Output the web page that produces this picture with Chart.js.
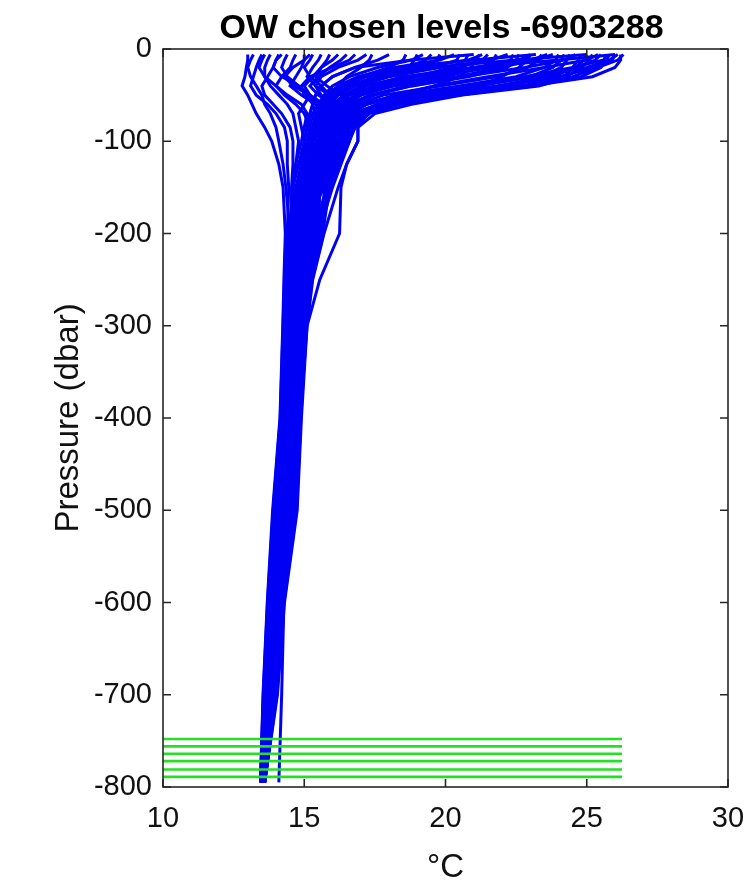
<!DOCTYPE html>
<html>
<head>
<meta charset="utf-8">
<title>OW chosen levels</title>
<script src="https://cdn.jsdelivr.net/npm/chart.js@4.4.1/dist/chart.umd.min.js"></script>
<style>
  html, body { margin: 0; padding: 0; background: #fff; }
  #wrap { width: 754px; height: 888px; }
</style>
</head>
<body>
<div id="wrap"><canvas id="chart" width="754" height="888"></canvas></div>
<script>
// OW chosen levels - float 6903288, temperature profiles vs pressure

// --- Data ---
const titleText = 'OW chosen levels -6903288';

// pressure levels shared by every profile (dbar, plotted negative)
const levels = [-6, -12, -20, -30, -40, -50, -60, -70, -85, -100, -125, -150, -200, -250, -300, -400, -500, -600, -700, -795];

// warm (summer) profiles, temperature in degC at each level
const warm01 = [26.3, 26.1, 25.4, 24.5, 23.3, 20.6, 18.8, 17.5, 16.9, 16.9, 16.5, 16.2, 15.7, 15.3, 15.1, 14.9, 14.75, 14.3, 14.05, 13.6];
const warm02 = [26.0, 25.9, 25.3, 24.0, 22.0, 19.8, 18.2, 17.2, 16.7, 16.6, 16.3, 16.0, 15.5, 15.2, 15.02, 14.78, 14.62, 14.22, 13.96, 13.6];
const warm03 = [25.7, 25.6, 24.5, 22.8, 20.8, 18.9, 17.6, 16.9, 16.5, 16.4, 16.0, 15.8, 15.3, 15.05, 14.9, 14.67, 14.5, 14.13, 13.88, 13.57];
const warm04 = [25.4, 25.0, 23.5, 21.5, 19.6, 18.2, 17.2, 16.6, 16.2, 16.1, 15.8, 15.6, 15.1, 14.9, 14.78, 14.56, 14.38, 14.04, 13.8, 13.55];
const warm05 = [25.0, 24.9, 24.6, 23.6, 21.8, 19.2, 17.6, 16.8, 16.3, 16.0, 15.7, 15.5, 14.9, 14.75, 14.65, 14.45, 14.25, 13.95, 13.72, 13.52];
const warm06 = [24.6, 24.2, 22.8, 20.6, 18.8, 17.5, 16.8, 16.3, 16.0, 15.9, 15.6, 15.4, 14.7, 14.6, 14.52, 14.35, 14.12, 13.86, 13.65, 13.5];
const warm07 = [24.2, 24.1, 23.8, 23.0, 21.2, 18.6, 17.2, 16.6, 16.2, 16.1, 15.8, 15.6, 15.32, 15.07, 14.92, 14.69, 14.52, 14.15, 13.9, 13.58];
const warm08 = [23.8, 23.2, 21.5, 19.5, 18.0, 17.0, 16.5, 16.1, 15.8, 15.7, 15.4, 15.2, 14.5, 14.45, 14.4, 14.25, 14.0, 13.78, 13.6, 13.48];
const warm09 = [23.4, 23.3, 22.9, 21.8, 19.8, 17.8, 16.9, 16.4, 16.0, 15.9, 15.6, 15.4, 15.12, 14.92, 14.8, 14.58, 14.4, 14.06, 13.82, 13.56];
const warm10 = [23.0, 22.6, 21.0, 19.0, 17.6, 16.8, 16.3, 16.0, 15.7, 15.6, 15.3, 15.1, 14.92, 14.77, 14.67, 14.47, 14.27, 13.97, 13.74, 13.53];
const warm11 = [22.6, 22.5, 22.2, 20.8, 18.8, 17.3, 16.6, 16.2, 15.9, 15.8, 15.5, 15.3, 15.52, 15.22, 15.04, 14.8, 14.64, 14.24, 13.98, 13.6];
const warm12 = [22.2, 21.6, 19.8, 18.0, 17.0, 16.4, 16.0, 15.8, 15.6, 15.5, 15.2, 15.0, 14.37, 14.32, 14.27, 14.17, 13.92, 13.72, 13.56, 13.46];
const warm13 = [21.8, 21.7, 21.3, 20.0, 18.2, 17.0, 16.4, 16.1, 15.8, 15.7, 15.4, 15.2, 14.72, 14.62, 14.54, 14.37, 14.14, 13.88, 13.66, 13.5];
const warm14 = [21.3, 20.8, 19.0, 17.5, 16.6, 16.1, 15.8, 15.6, 15.4, 15.3, 15.1, 14.9, 14.52, 14.47, 14.42, 14.27, 14.02, 13.8, 13.61, 13.48];
const warm15 = [20.8, 20.7, 20.2, 19.0, 17.5, 16.6, 16.2, 15.9, 15.6, 15.5, 15.3, 15.1, 15.08, 14.88, 14.76, 14.54, 14.36, 14.02, 13.79, 13.55];
const warm16 = [20.3, 19.8, 18.2, 17.0, 16.3, 15.9, 15.6, 15.4, 15.3, 15.2, 15.0, 14.8, 14.35, 14.3, 14.25, 14.15, 13.9, 13.7, 13.55, 13.45];
const warm17 = [19.8, 19.7, 19.2, 18.0, 16.8, 16.2, 15.9, 15.7, 15.5, 15.4, 15.2, 15.0, 14.88, 14.73, 14.63, 14.43, 14.23, 13.93, 13.71, 13.52];
const warm18 = [19.2, 18.8, 17.6, 16.6, 16.0, 15.7, 15.5, 15.3, 15.2, 15.1, 14.9, 14.7, 14.68, 14.58, 14.5, 14.33, 14.1, 13.84, 13.64, 13.5];
const warm19 = [18.6, 18.5, 18.0, 17.0, 16.3, 15.9, 15.6, 15.5, 15.4, 15.3, 15.1, 14.9, 15.28, 15.03, 14.88, 14.65, 14.48, 14.11, 13.87, 13.57];
const warm20 = [18.0, 17.6, 16.8, 16.0, 15.6, 15.4, 15.3, 15.2, 15.1, 15.0, 14.8, 14.6, 14.48, 14.43, 14.38, 14.23, 13.98, 13.76, 13.59, 13.48];
const warm21 = [17.4, 17.3, 17.0, 16.5, 16.2, 16.4, 16.7, 16.9, 16.9, 16.9, 16.5, 16.3, 16.25, 15.55, 15.1, 14.85, 14.7, 14.25, 13.95, 13.55];
const warm22 = [24.8, 24.7, 24.5, 24.2, 23.0, 20.5, 18.4, 17.0, 16.4, 16.2, 15.9, 15.7, 15.68, 15.28, 15.08, 14.88, 14.73, 14.28, 14.03, 13.6];
const warm23 = [25.2, 25.1, 24.8, 24.3, 23.2, 20.4, 18.4, 17.3, 16.8, 16.5, 16.1, 15.9, 15.48, 15.18, 15.0, 14.76, 14.6, 14.2, 13.94, 13.59];
const warm24 = [26.1, 25.8, 25.0, 23.2, 21.0, 19.0, 17.8, 17.0, 16.6, 16.4, 16.1, 15.9, 15.28, 15.03, 14.88, 14.65, 14.48, 14.11, 13.86, 13.56];
const warm25 = [26.2, 26.2, 26.0, 25.2, 23.0, 20.0, 18.0, 17.1, 16.6, 16.5, 16.2, 15.9, 15.25, 15.0, 14.86, 14.63, 14.46, 14.1, 13.85, 13.56];
const warm26 = [25.8, 25.7, 25.5, 24.8, 22.6, 19.4, 17.6, 16.9, 16.4, 16.2, 15.9, 15.7, 14.85, 14.72, 14.62, 14.42, 14.2, 13.92, 13.7, 13.52];
const warm27 = [24.0, 23.9, 23.5, 22.5, 20.5, 18.3, 17.0, 16.5, 16.1, 16.0, 15.7, 15.5, 15.15, 14.95, 14.82, 14.6, 14.42, 14.08, 13.82, 13.56];
const warm28 = [23.6, 23.0, 22.0, 20.4, 18.6, 17.4, 16.7, 16.3, 15.9, 15.8, 15.5, 15.3, 14.65, 14.56, 14.48, 14.32, 14.08, 13.83, 13.63, 13.5];
const warm29 = [22.4, 22.3, 21.6, 19.6, 17.8, 16.9, 16.4, 16.0, 15.7, 15.6, 15.4, 15.2, 14.45, 14.4, 14.36, 14.22, 13.96, 13.75, 13.58, 13.47];
const warm30 = [21.5, 21.3, 20.5, 18.7, 17.2, 16.5, 16.1, 15.8, 15.6, 15.5, 15.3, 15.1, 14.95, 14.8, 14.7, 14.5, 14.3, 13.98, 13.74, 13.53];
const warm31 = [20.5, 20.4, 19.6, 17.8, 16.6, 16.1, 15.8, 15.6, 15.4, 15.3, 15.1, 14.9, 14.4, 14.34, 14.28, 14.18, 13.93, 13.72, 13.57, 13.46];
const warm32 = [19.5, 19.3, 18.6, 17.2, 16.4, 16.0, 15.7, 15.5, 15.3, 15.2, 15.0, 14.8, 14.75, 14.64, 14.55, 14.38, 14.16, 13.9, 13.67, 13.51];
const warm33 = [26.0, 24.0, 21.0, 18.5, 17.2, 16.6, 16.2, 15.9, 15.6, 15.5, 15.3, 15.1, 14.6, 14.5, 14.44, 14.28, 14.04, 13.8, 13.62, 13.49];
const warm34 = [25.0, 22.5, 19.5, 17.6, 16.6, 16.1, 15.8, 15.6, 15.4, 15.3, 15.1, 14.9, 15.0, 14.82, 14.7, 14.5, 14.32, 14.0, 13.76, 13.54];
const warm35 = [23.2, 21.0, 18.3, 16.9, 16.2, 15.8, 15.6, 15.5, 15.3, 15.2, 15.0, 14.85, 14.8, 14.68, 14.58, 14.4, 14.18, 13.9, 13.68, 13.51];
const warm36 = [21.0, 18.8, 16.8, 16.0, 15.6, 15.4, 15.3, 15.2, 15.1, 15.0, 14.9, 14.75, 14.42, 14.36, 14.32, 14.2, 13.94, 13.74, 13.58, 13.47];
const warm37 = [25.5, 25.3, 24.6, 23.8, 22.8, 20.2, 18.0, 17.0, 16.5, 16.3, 16.0, 15.8, 15.4, 15.12, 14.96, 14.72, 14.56, 14.18, 13.92, 13.58];
const warm38 = [24.4, 24.3, 24.1, 23.4, 22.4, 20.3, 18.1, 16.9, 16.4, 16.2, 15.9, 15.6, 15.2, 14.98, 14.84, 14.62, 14.44, 14.08, 13.84, 13.56];
const warm39 = [23.0, 22.9, 22.6, 22.0, 21.2, 19.6, 17.6, 16.7, 16.2, 16.0, 15.7, 15.5, 15.6, 15.25, 15.06, 14.84, 14.68, 14.26, 14.0, 13.6];
const warm40 = [21.2, 21.1, 20.9, 20.5, 19.6, 18.4, 17.2, 16.5, 16.1, 15.9, 15.6, 15.4, 14.95, 14.78, 14.68, 14.48, 14.28, 13.96, 13.73, 13.52];
const warm41 = [19.0, 18.9, 18.7, 18.4, 17.8, 17.0, 16.5, 16.2, 15.9, 15.7, 15.5, 15.3, 14.55, 14.48, 14.42, 14.27, 14.02, 13.79, 13.61, 13.49];

// cold (winter) profiles, temperature in degC at each level
const cold01 = [13.0, 13.0, 12.95, 12.9, 12.8, 13.0, 13.15, 13.3, 13.6, 13.85, 14.1, 14.25, 14.33, 14.28, 14.24, 14.14, 13.88, 13.69, 13.54, 13.45];
const cold02 = [13.2, 13.1, 13.0, 13.1, 13.3, 13.5, 13.6, 13.8, 14.0, 14.1, 14.25, 14.35, 14.5, 14.45, 14.4, 14.25, 14.0, 13.78, 13.6, 13.48];
const cold03 = [13.5, 13.4, 13.3, 13.2, 13.1, 13.3, 13.7, 14.0, 14.3, 14.4, 14.4, 14.45, 14.4, 14.35, 14.3, 14.2, 13.95, 13.72, 13.57, 13.46];
const cold04 = [13.8, 13.7, 13.6, 13.6, 13.8, 14.1, 14.4, 14.6, 14.7, 14.8, 14.7, 14.6, 14.7, 14.6, 14.52, 14.35, 14.12, 13.86, 13.65, 13.5];
const cold05 = [14.1, 14.0, 13.9, 13.7, 13.5, 13.6, 13.9, 14.2, 14.5, 14.6, 14.6, 14.55, 14.55, 14.5, 14.45, 14.3, 14.05, 13.8, 13.62, 13.49];
const cold06 = [14.4, 14.3, 14.2, 14.4, 14.8, 15.1, 15.3, 15.4, 15.3, 15.2, 15.0, 14.9, 14.9, 14.75, 14.65, 14.45, 14.25, 13.95, 13.72, 13.52];
const cold07 = [14.7, 14.6, 14.5, 14.2, 14.0, 14.3, 14.7, 15.0, 15.2, 15.2, 15.0, 14.85, 14.65, 14.55, 14.48, 14.32, 14.08, 13.84, 13.64, 13.5];
const cold08 = [15.0, 15.0, 14.9, 14.7, 14.5, 14.9, 15.4, 15.7, 15.8, 15.6, 15.4, 15.2, 15.0, 14.8, 14.7, 14.6, 14.5, 14.28, 14.2, 14.1];
const cold09 = [15.3, 15.2, 15.0, 15.2, 15.6, 15.9, 16.0, 15.9, 15.7, 15.6, 15.4, 15.25, 15.15, 14.95, 14.82, 14.6, 14.42, 14.08, 13.83, 13.56];
const cold10 = [15.6, 15.5, 15.3, 15.1, 15.4, 15.9, 16.2, 16.0, 15.8, 15.7, 15.5, 15.35, 15.45, 15.15, 14.98, 14.75, 14.58, 14.19, 13.93, 13.59];
const cold11 = [15.9, 15.8, 15.6, 15.3, 15.0, 15.2, 15.7, 16.1, 16.3, 16.2, 15.9, 15.6, 15.35, 15.1, 14.95, 14.7, 14.54, 14.16, 13.9, 13.58];
const cold12 = [16.2, 16.0, 15.6, 15.4, 15.8, 16.3, 16.6, 16.4, 16.2, 16.0, 15.7, 15.5, 15.05, 14.86, 14.74, 14.52, 14.34, 14.0, 13.78, 13.54];
const cold13 = [16.5, 16.3, 15.9, 15.5, 15.2, 15.5, 16.0, 16.5, 16.8, 16.6, 16.2, 15.9, 15.65, 15.27, 15.07, 14.87, 14.72, 14.27, 14.0, 13.6];
const cold14 = [16.8, 16.6, 16.0, 15.2, 14.9, 15.0, 15.6, 16.2, 16.6, 16.5, 16.1, 15.8, 15.55, 15.24, 15.06, 14.82, 14.66, 14.25, 13.98, 13.6];
const cold15 = [14.2, 14.0, 13.9, 14.2, 14.8, 15.2, 15.0, 14.8, 14.9, 15.0, 14.9, 14.8, 14.85, 14.72, 14.62, 14.42, 14.22, 13.92, 13.7, 13.51];
const cold16 = [13.6, 13.5, 13.4, 13.6, 14.0, 14.4, 14.9, 15.1, 15.0, 14.9, 14.7, 14.6, 14.75, 14.64, 14.56, 14.39, 14.16, 13.9, 13.67, 13.5];
const cold17 = [17.2, 16.9, 16.2, 15.6, 15.4, 15.6, 15.9, 16.1, 16.0, 15.9, 15.6, 15.4, 14.95, 14.78, 14.68, 14.48, 14.28, 13.98, 13.74, 13.53];
const cold18 = [15.2, 15.0, 14.6, 14.3, 14.6, 15.2, 15.6, 15.5, 15.4, 15.3, 15.1, 15.0, 14.55, 14.48, 14.43, 14.28, 14.03, 13.8, 13.62, 13.48];

const profiles = [
  warm01, warm02, warm03, warm04, warm05, warm06, warm07, warm08, warm09, warm10, warm11, warm12,
  warm13, warm14, warm15, warm16, warm17, warm18, warm19, warm20, warm21, warm22, warm23, warm24,
  warm25, warm26, warm27, warm28, warm29, warm30, warm31, warm32, warm33, warm34, warm35, warm36,
  warm37, warm38, warm39, warm40, warm41,
  cold01, cold02, cold03, cold04, cold05, cold06, cold07, cold08, cold09,
  cold10, cold11, cold12, cold13, cold14, cold15, cold16, cold17, cold18,
];

// the chosen OW levels (green) and the temperature span they are drawn over
const chosenLevels = [-748, -756, -764, -772, -781, -789];
const chosenSpan = [10, 26.25];

const xTicks = [10, 15, 20, 25, 30];
const yTicks = [0, -100, -200, -300, -400, -500, -600, -700, -800];

// --- Datasets ---
const blueSets = profiles.map(temps => ({
  data: temps.map((t, i) => ({ x: t, y: levels[i] })),
  borderColor: '#0000f5',
  borderWidth: 3,
  pointRadius: 0,
  showLine: true,
  fill: false,
  order: 1,
}));

const greenSets = chosenLevels.map(p => ({
  data: chosenSpan.map(t => ({ x: t, y: p })),
  borderColor: '#24e024',
  borderWidth: 2.6,
  pointRadius: 0,
  showLine: true,
  fill: false,
  order: 0,
}));

// box round the axes, inward ticks on all four sides, and the title
const boxPlugin = {
  id: 'box',
  afterDraw(chart) {
    const { ctx, chartArea: a, scales } = chart;
    const len = 8;
    ctx.save();
    ctx.strokeStyle = '#262626';
    ctx.lineWidth = 1.6;
    ctx.strokeRect(a.left, a.top, a.right - a.left, a.bottom - a.top);
    ctx.beginPath();
    xTicks.forEach(v => {
      const px = scales.x.getPixelForValue(v);
      ctx.moveTo(px, a.bottom); ctx.lineTo(px, a.bottom - len);
      ctx.moveTo(px, a.top); ctx.lineTo(px, a.top + len);
    });
    yTicks.forEach(v => {
      const py = scales.y.getPixelForValue(v);
      ctx.moveTo(a.left, py); ctx.lineTo(a.left + len, py);
      ctx.moveTo(a.right, py); ctx.lineTo(a.right - len, py);
    });
    ctx.stroke();
    ctx.fillStyle = '#000';
    ctx.font = 'bold 34px "Liberation Sans", Arial, sans-serif';
    ctx.textAlign = 'center';
    ctx.textBaseline = 'alphabetic';
    ctx.fillText(titleText, (a.left + a.right) / 2 - 4, 38);
    ctx.restore();
  }
};

const tickFont = { family: '"Liberation Sans", Arial, sans-serif', size: 29 };
const labelFont = { family: '"Liberation Sans", Arial, sans-serif', size: 33 };

new Chart(document.getElementById('chart'), {
  type: 'scatter',
  data: { datasets: [...greenSets, ...blueSets] },
  options: {
    responsive: false,
    animation: false,
    layout: { padding: { top: 49, right: 26, left: 0, bottom: 0 } },
    plugins: {
      legend: { display: false },
      tooltip: { enabled: false },
      title: { display: false },
    },
    scales: {
      x: {
        type: 'linear',
        min: 10,
        max: 30,
        afterBuildTicks: s => { s.ticks = xTicks.map(v => ({ value: v })); },
        afterFit: s => { s.height = 101; s.paddingLeft = 0; s.paddingRight = 0; },
        grid: { display: false, drawTicks: false },
        border: { display: false },
        ticks: { color: '#111', font: tickFont, padding: 15, maxRotation: 0 },
        title: {
          display: true,
          text: '°C',
          color: '#111',
          font: labelFont,
          padding: { top: 6, bottom: 0 },
        },
      },
      y: {
        type: 'linear',
        min: -800,
        max: 0,
        afterBuildTicks: s => { s.ticks = yTicks.map(v => ({ value: v })); },
        afterFit: s => { s.width = 163; s.paddingTop = 0; s.paddingBottom = 0; },
        grid: { display: false, drawTicks: false },
        border: { display: false },
        ticks: { color: '#111', font: tickFont, padding: 11 },
        title: {
          display: true,
          text: 'Pressure (dbar)',
          color: '#111',
          font: labelFont,
          padding: { top: 49, bottom: 0 },
        },
      },
    },
  },
  plugins: [boxPlugin],
});
</script>
</body>
</html>
